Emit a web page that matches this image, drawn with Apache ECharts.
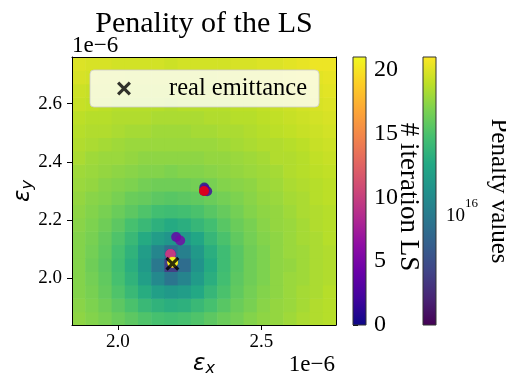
<!DOCTYPE html>
<html>
<head>
<meta charset="utf-8">
<script src="https://cdn.jsdelivr.net/npm/echarts@6/dist/echarts.min.js"></script>
<style>
  html, body { margin: 0; padding: 0; background: #fff; }
  #chart { width: 506px; height: 377px; }
</style>
</head>
<body>
<div id="chart"></div>
<script>
// emittance values are in units of 1e-6 (the "1e−6" offset text)
const epsRange = [1.84, 2.76];
const xTicks = [2.0, 2.5];
const yTicks = [2.0, 2.2, 2.4, 2.6];

// centres of the penalty grid cells
const xCells = [1.863, 1.909, 1.955, 2.001, 2.047, 2.093, 2.139, 2.185, 2.231, 2.277,
                2.323, 2.369, 2.415, 2.461, 2.507, 2.553, 2.599, 2.645, 2.691, 2.737];
const yCells = [1.863, 1.909, 1.955, 2.001, 2.047, 2.093, 2.139, 2.185, 2.231, 2.277,
                2.323, 2.369, 2.415, 2.461, 2.507, 2.553, 2.599, 2.645, 2.691, 2.737];

// log10(penalty), one row per yCells entry (bottom row first)
const logPenalty = [
  [16.48,16.46,16.44,16.41,16.38,16.35,16.33,16.32,16.33,16.35,16.38,16.41,16.43,16.46,16.48,16.49,16.51,16.53,16.54,16.55],
  [16.47,16.45,16.42,16.38,16.34,16.29,16.26,16.24,16.25,16.29,16.33,16.37,16.41,16.44,16.47,16.49,16.50,16.52,16.54,16.55],
  [16.46,16.44,16.40,16.35,16.29,16.23,16.16,16.13,16.15,16.21,16.28,16.34,16.39,16.43,16.46,16.48,16.50,16.52,16.53,16.55],
  [16.46,16.43,16.39,16.33,16.26,16.16,16.05,15.96,16.03,16.14,16.24,16.32,16.38,16.42,16.45,16.48,16.50,16.51,16.53,16.54],
  [16.46,16.42,16.38,16.32,16.24,16.13,15.97,15.72,15.92,16.10,16.22,16.31,16.37,16.42,16.45,16.48,16.49,16.51,16.53,16.54],
  [16.46,16.43,16.39,16.33,16.26,16.15,16.04,15.93,16.01,16.13,16.24,16.31,16.37,16.42,16.45,16.48,16.50,16.51,16.53,16.54],
  [16.46,16.44,16.40,16.35,16.29,16.22,16.15,16.11,16.13,16.20,16.28,16.34,16.39,16.43,16.46,16.48,16.50,16.52,16.53,16.55],
  [16.47,16.45,16.42,16.38,16.33,16.29,16.25,16.22,16.24,16.28,16.32,16.37,16.41,16.44,16.47,16.49,16.50,16.52,16.54,16.55],
  [16.48,16.46,16.44,16.41,16.38,16.35,16.32,16.31,16.32,16.34,16.37,16.40,16.43,16.46,16.48,16.49,16.51,16.53,16.54,16.55],
  [16.49,16.47,16.46,16.44,16.41,16.40,16.38,16.37,16.38,16.39,16.41,16.43,16.45,16.47,16.49,16.50,16.52,16.53,16.55,16.56],
  [16.50,16.49,16.47,16.46,16.45,16.43,16.42,16.42,16.42,16.43,16.44,16.46,16.47,16.48,16.50,16.51,16.53,16.54,16.55,16.56],
  [16.51,16.50,16.49,16.48,16.47,16.46,16.46,16.45,16.46,16.46,16.47,16.48,16.49,16.50,16.51,16.52,16.54,16.55,16.56,16.57],
  [16.53,16.51,16.50,16.50,16.49,16.48,16.48,16.48,16.48,16.48,16.49,16.49,16.50,16.51,16.52,16.54,16.54,16.55,16.57,16.58],
  [16.54,16.53,16.52,16.51,16.50,16.50,16.50,16.50,16.50,16.50,16.50,16.51,16.52,16.53,16.54,16.54,16.55,16.56,16.58,16.59],
  [16.55,16.54,16.54,16.53,16.52,16.52,16.51,16.51,16.51,16.52,16.52,16.53,16.53,16.54,16.55,16.56,16.57,16.58,16.59,16.60],
  [16.56,16.55,16.55,16.54,16.54,16.54,16.53,16.53,16.53,16.53,16.54,16.54,16.55,16.55,16.56,16.57,16.58,16.59,16.60,16.61],
  [16.58,16.57,16.56,16.55,16.55,16.55,16.55,16.54,16.55,16.55,16.55,16.55,16.56,16.56,16.57,16.58,16.59,16.60,16.61,16.62],
  [16.59,16.58,16.58,16.57,16.56,16.56,16.56,16.56,16.56,16.56,16.56,16.57,16.57,16.58,16.59,16.60,16.61,16.61,16.62,16.63],
  [16.61,16.60,16.59,16.59,16.58,16.58,16.58,16.58,16.58,16.58,16.58,16.59,16.59,16.60,16.60,16.61,16.62,16.63,16.63,16.64],
  [16.62,16.61,16.61,16.60,16.60,16.60,16.60,16.59,16.60,16.60,16.60,16.60,16.61,16.61,16.62,16.62,16.63,16.64,16.65,16.65]
];
const penaltyRange = [15.5, 16.68];
const penaltyMajorTicks = [16];
// log10 of 4e15..9e15 and 2e16..4e16
const penaltyMinorTicks = [15.602, 15.699, 15.778, 15.845, 15.903, 15.954, 16.301, 16.477, 16.602];

// line-search iterates
const iterNo = [0, 1, 2, 3, 4, 5, 6, 7, 8, 9, 10, 11, 12, 13, 14, 15, 16, 17, 18, 19, 20, 21];
const iterX = [2.300, 2.301, 2.311, 2.303, 2.203, 2.217, 2.184, 2.184, 2.183, 2.183, 2.183,
               2.190, 2.191, 2.191, 2.190, 2.192, 2.191, 2.190, 2.192, 2.191, 2.190, 2.191];
const iterY = [2.300, 2.312, 2.299, 2.305, 2.142, 2.130, 2.084, 2.084, 2.083, 2.084, 2.083,
               2.060, 2.057, 2.056, 2.055, 2.056, 2.055, 2.054, 2.056, 2.055, 2.055, 2.055];
const iterRange = [0, 21];
const iterTicks = [0, 5, 10, 15, 20];

const startPoint = [2.30, 2.30];
const realEmittance = [2.19, 2.05];

const VIRIDIS = ['#440154', '#482475', '#414487', '#355f8d', '#2a788e', '#21918c',
                 '#22a884', '#44bf70', '#7ad151', '#bddf26', '#fde725'];
const PLASMA = ['#0d0887', '#41049d', '#6a00a8', '#8f0da4', '#b12a90', '#cc4778',
                '#e16462', '#f2844b', '#fca636', '#fcce25', '#f0f921'];

const SERIF = 'Liberation Serif';
const CELL = 0.046;
const CROSS = 'path://M1.6,0L5,3.4L8.4,0L10,1.6L6.6,5L10,8.4L8.4,10L5,6.6L1.6,10L0,8.4L3.4,5L0,1.6Z';

const heatData = [];
yCells.forEach((y, j) => {
  xCells.forEach((x, i) => heatData.push([x, y, logPenalty[j][i]]));
});
const iterData = iterX.map((x, k) => [x, iterY[k], iterNo[k]]);

function renderCell(params, api) {
  const x = api.value(0), y = api.value(1);
  const a = api.coord([x - CELL / 2, y + CELL / 2]);
  const b = api.coord([x + CELL / 2, y - CELL / 2]);
  return {
    type: 'rect',
    shape: { x: a[0], y: a[1], width: b[0] - a[0] + 0.6, height: b[1] - a[1] + 0.6 },
    style: { fill: api.visual('color') }
  };
}

function colorbar(range, colors) {
  return function (params, api) {
    const a = api.coord([0, range[1]]);
    const b = api.coord([1, range[0]]);
    return {
      type: 'rect',
      shape: { x: a[0], y: a[1], width: b[0] - a[0], height: b[1] - a[1] },
      style: {
        fill: {
          type: 'linear', x: 0, y: 1, x2: 0, y2: 0,
          colorStops: colors.map((c, k) => ({ offset: k / (colors.length - 1), color: c }))
        },
        stroke: '#333', lineWidth: 1
      }
    };
  };
}

const tickFont = { fontFamily: SERIF, fontSize: 19, color: '#000' };
const blackLine = { lineStyle: { color: '#000', width: 1 } };
const hiddenX = (g) => ({ type: 'value', gridIndex: g, min: 0, max: 1, show: false });
const epsRich = {
  e: { fontFamily: 'DejaVu Sans', fontStyle: 'italic', fontSize: 23, color: '#000' },
  s: { fontFamily: 'DejaVu Sans', fontStyle: 'italic', fontSize: 16, color: '#000', padding: [10, 0, 0, 0] }
};
const gridBase = { outerBoundsMode: 'none', containLabel: false };

const option = {
  backgroundColor: '#fff',
  animation: false,
  title: {
    text: 'Penality of the LS',
    left: 199, top: 4, textAlign: 'center',
    textStyle: { fontFamily: SERIF, fontSize: 30, fontWeight: 'normal', color: '#000' }
  },
  legend: {
    data: ['real emittance'],
    left: 90, top: 70,
    padding: [6, 12, 6, 27],
    itemWidth: 14, itemHeight: 14,
    icon: CROSS,
    backgroundColor: 'rgba(255,255,255,0.8)',
    borderColor: 'rgba(204,204,204,0.8)', borderWidth: 1, borderRadius: 4,
    formatter: (name) => '{g|}{t|' + name + '}',
    textStyle: {
      rich: {
        g: { width: 33 },
        t: { fontFamily: SERIF, fontSize: 24.5, color: '#000', lineHeight: 29 }
      }
    }
  },
  grid: [
    { left: 72, top: 57, width: 264, height: 268, ...gridBase },
    { left: 353, top: 57, width: 13, height: 268, ...gridBase },
    { left: 423, top: 57, width: 13, height: 268, ...gridBase },
    { left: 423, top: 57, width: 13, height: 268, ...gridBase }
  ],
  visualMap: [
    { show: false, seriesIndex: 0, dimension: 2, min: penaltyRange[0], max: penaltyRange[1], inRange: { color: VIRIDIS } },
    { show: false, seriesIndex: 1, dimension: 2, min: iterRange[0], max: iterRange[1], inRange: { color: PLASMA } }
  ],
  xAxis: [
    {
      type: 'value', gridIndex: 0, min: epsRange[0], max: epsRange[1], z: 10,
      axisLine: blackLine, splitLine: { show: false },
      axisTick: { customValues: xTicks, length: 5, ...blackLine },
      axisLabel: { customValues: xTicks, formatter: (v) => v.toFixed(1), margin: 8, ...tickFont },
      name: '{e|ε}{s|x}', nameLocation: 'middle', nameGap: 26, nameMoveOverlap: false,
      nameTextStyle: { rich: epsRich }
    },
    {
      type: 'value', gridIndex: 0, position: 'top', min: epsRange[0], max: epsRange[1], z: 10,
      axisLine: blackLine, axisTick: { show: false }, axisLabel: { show: false }, splitLine: { show: false }
    },
    hiddenX(1), hiddenX(2), hiddenX(3)
  ],
  yAxis: [
    {
      type: 'value', gridIndex: 0, min: epsRange[0], max: epsRange[1], z: 10,
      axisLine: blackLine, splitLine: { show: false },
      axisTick: { customValues: yTicks, length: 5, ...blackLine },
      axisLabel: { customValues: yTicks, formatter: (v) => v.toFixed(1), margin: 10, ...tickFont },
      name: '{e|ε}{s|y}', nameLocation: 'middle', nameRotate: 90, nameGap: 36, nameMoveOverlap: false,
      nameTextStyle: { rich: epsRich }
    },
    {
      type: 'value', gridIndex: 0, position: 'right', min: epsRange[0], max: epsRange[1], z: 10,
      axisLine: blackLine, axisTick: { show: false }, axisLabel: { show: false }, splitLine: { show: false }
    },
    {
      type: 'value', gridIndex: 1, position: 'right', min: iterRange[0], max: iterRange[1],
      axisLine: { show: false }, splitLine: { show: false },
      axisTick: { customValues: iterTicks, length: 5, ...blackLine },
      axisLabel: { customValues: iterTicks, margin: 8, fontFamily: SERIF, fontSize: 24, color: '#000' },
      name: '# iteration LS', nameLocation: 'middle', nameRotate: -90, nameGap: 29, nameMoveOverlap: false,
      nameTextStyle: { fontFamily: SERIF, fontSize: 27, color: '#000', padding: [0, 0, 0, 12] }
    },
    {
      type: 'value', gridIndex: 2, position: 'right', min: penaltyRange[0], max: penaltyRange[1],
      axisLine: { show: false }, splitLine: { show: false },
      axisTick: { customValues: penaltyMinorTicks, length: 3, ...blackLine },
      axisLabel: { show: false }
    },
    {
      type: 'value', gridIndex: 3, position: 'right', min: penaltyRange[0], max: penaltyRange[1],
      axisLine: { show: false }, splitLine: { show: false },
      axisTick: { customValues: penaltyMajorTicks, length: 5, ...blackLine },
      axisLabel: {
        customValues: penaltyMajorTicks, margin: 10,
        formatter: (v) => '{b|10}{sup|' + v + '}',
        rich: {
          b: { fontFamily: SERIF, fontSize: 19, color: '#000', padding: [9, 0, 0, 0] },
          sup: { fontFamily: SERIF, fontSize: 13, color: '#000', verticalAlign: 'top' }
        }
      },
      name: 'Penalty values', nameLocation: 'middle', nameRotate: -90, nameGap: 50, nameMoveOverlap: false,
      nameTextStyle: { fontFamily: SERIF, fontSize: 25, color: '#000' }
    }
  ],
  graphic: [
    { type: 'text', left: 72, top: 34, style: { text: '1e\u22126', font: '23px "Liberation Serif"', fill: '#000' } },
    { type: 'text', right: 171, top: 353, style: { text: '1e\u22126', font: '23px "Liberation Serif"', fill: '#000' } }
  ],
  series: [
    {
      type: 'custom', name: 'penalty', xAxisIndex: 0, yAxisIndex: 0,
      renderItem: renderCell, clip: true, data: heatData, z: 1
    },
    {
      type: 'scatter', name: 'iterations', xAxisIndex: 0, yAxisIndex: 0,
      symbolSize: 10, data: iterData, z: 3
    },
    {
      type: 'scatter', name: 'start', xAxisIndex: 0, yAxisIndex: 0,
      symbolSize: 10, itemStyle: { color: '#ff0000' }, data: [startPoint], z: 4
    },
    {
      type: 'scatter', name: 'real emittance', xAxisIndex: 0, yAxisIndex: 0,
      symbol: CROSS, symbolSize: 14, itemStyle: { color: '#000' }, data: [realEmittance], z: 5
    },
    {
      type: 'custom', name: 'iterbar', xAxisIndex: 2, yAxisIndex: 2,
      renderItem: colorbar(iterRange, PLASMA), data: [[0]], silent: true
    },
    {
      type: 'custom', name: 'penaltybar', xAxisIndex: 3, yAxisIndex: 3,
      renderItem: colorbar(penaltyRange, VIRIDIS), data: [[0]], silent: true
    }
  ]
};

const chart = echarts.init(document.getElementById('chart'));
chart.setOption(option);
</script>
</body>
</html>
